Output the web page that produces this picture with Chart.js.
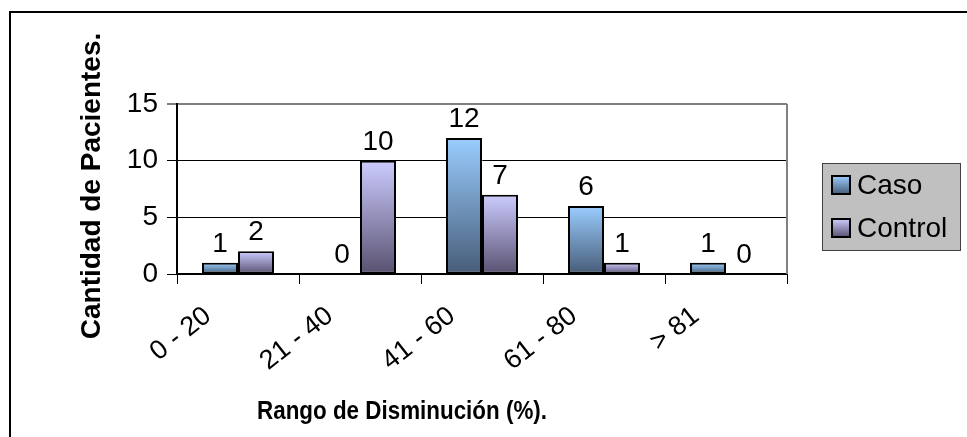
<!DOCTYPE html>
<html>
<head>
<meta charset="utf-8">
<script src="https://cdn.jsdelivr.net/npm/chart.js@4/dist/chart.umd.min.js"></script>
<style>
  html, body { margin: 0; padding: 0; background: #fff; }
  #wrap { width: 967px; height: 437px; position: relative; }
</style>
</head>
<body>
<div id="wrap"><canvas id="c" width="967" height="437"></canvas></div>
<script>
// Patients per reduction range
const categories = ['0 - 20', '21 - 40', '41 - 60', '61 - 80', '> 81'];
const casoValues = [1, 0, 12, 6, 1];
const controlValues = [2, 10, 7, 1, 0];
const yTicks = [0, 5, 10, 15];
const seriesNames = ['Caso', 'Control'];
const yTitle = 'Cantidad de Pacientes.';
const xTitle = 'Rango de Disminución (%).';

const FONT = "Arial, 'Liberation Sans', sans-serif";

// vertical gradient per bar, light at the top and dark at the base
function barGradient(topColor, bottomColor) {
  return (ctx) => {
    const chart = ctx.chart;
    if (!chart.chartArea || ctx.raw === undefined) return topColor;
    const ys = chart.scales.y;
    const yTop = ys.getPixelForValue(ctx.raw);
    const yBase = ys.getPixelForValue(0);
    if (Math.abs(yBase - yTop) < 1) return topColor;
    const g = chart.ctx.createLinearGradient(0, yTop, 0, yBase);
    g.addColorStop(0, topColor);
    g.addColorStop(1, bottomColor);
    return g;
  };
}

const swatch = {
  Caso: ['#9acdff', '#475c78'],
  Control: ['#ccccff', '#595170']
};

// text squeezed horizontally to a given width
function fillFitted(c, text, x, y, width) {
  const w = c.measureText(text).width;
  c.save();
  c.translate(x, y);
  c.scale(width / w, 1);
  c.fillText(text, 0, 0);
  c.restore();
}

// frame, plot border, value labels, axis titles and legend box
const decor = {
  id: 'decor',
  beforeDraw(chart) {
    const c = chart.ctx;
    c.save();
    c.fillStyle = '#fff';
    c.fillRect(0, 0, chart.width, chart.height);
    c.strokeStyle = '#000';
    c.lineWidth = 2;
    c.beginPath();
    c.moveTo(10, chart.height);
    c.lineTo(10, 12);
    c.lineTo(chart.width, 12);
    c.stroke();
    c.restore();
  },
  afterDatasetsDraw(chart) {
    const c = chart.ctx;
    const a = chart.chartArea;
    c.save();
    // right border of the plot area
    c.strokeStyle = '#808080';
    c.lineWidth = 2;
    c.beginPath();
    c.moveTo(a.right, a.top);
    c.lineTo(a.right, a.bottom);
    c.stroke();

    // value labels
    c.fillStyle = '#000';
    c.font = '28px ' + FONT;
    c.textAlign = 'center';
    c.textBaseline = 'alphabetic';
    chart.data.datasets.forEach((ds, di) => {
      const meta = chart.getDatasetMeta(di);
      meta.data.forEach((bar, i) => {
        c.fillText(String(ds.data[i]), bar.x, bar.y - 11);
      });
    });

    // axis titles
    c.font = 'bold 26px ' + FONT;
    c.textBaseline = 'middle';
    c.textAlign = 'center';
    fillFitted(c, xTitle, 402, 412, 290);
    c.save();
    c.font = 'bold 28px ' + FONT;
    c.translate(92, 186);
    c.rotate(-Math.PI / 2);
    c.fillText(yTitle, 0, 0);
    c.restore();

    // legend
    const lx = 822, ly = 163, lw = 138, lh = 87;
    c.fillStyle = '#c0c0c0';
    c.fillRect(lx, ly, lw, lh);
    c.strokeStyle = '#404040';
    c.lineWidth = 1;
    c.strokeRect(lx + 0.5, ly + 0.5, lw, lh);
    chart.data.datasets.forEach((ds, di) => {
      const cy = ly + 22 + di * 43;
      const sx = lx + 10, s = 18;
      const g = c.createLinearGradient(0, cy - s / 2, 0, cy + s / 2);
      g.addColorStop(0, swatch[ds.label][0]);
      g.addColorStop(1, swatch[ds.label][1]);
      c.fillStyle = g;
      c.fillRect(sx, cy - s / 2, s, s);
      c.strokeStyle = '#000';
      c.lineWidth = 2;
      c.strokeRect(sx, cy - s / 2, s, s);
      c.fillStyle = '#000';
      c.font = '28px ' + FONT;
      c.textAlign = 'left';
      c.textBaseline = 'middle';
      c.fillText(ds.label, sx + s + 7, cy + 1);
    });
    c.restore();
  }
};

new Chart(document.getElementById('c'), {
  type: 'bar',
  data: {
    labels: categories,
    datasets: [
      {
        label: seriesNames[0],
        data: casoValues,
        backgroundColor: barGradient(swatch.Caso[0], swatch.Caso[1]),
        borderColor: '#000',
        borderWidth: 2,
        borderSkipped: false,
        categoryPercentage: 0.59,
        barPercentage: 1
      },
      {
        label: seriesNames[1],
        data: controlValues,
        backgroundColor: barGradient(swatch.Control[0], swatch.Control[1]),
        borderColor: '#000',
        borderWidth: 2,
        borderSkipped: false,
        categoryPercentage: 0.59,
        barPercentage: 1
      }
    ]
  },
  options: {
    responsive: false,
    animation: false,
    devicePixelRatio: 1,
    layout: { padding: { top: 104, right: 180, left: 0, bottom: 0 } },
    plugins: {
      legend: { display: false },
      tooltip: { enabled: false }
    },
    scales: {
      x: {
        grid: {
          offset: true,
          drawOnChartArea: false,
          drawTicks: true,
          tickLength: 10,
          color: '#000',
          lineWidth: 1
        },
        border: { color: '#000', width: 2 },
        ticks: {
          color: '#000',
          font: { family: FONT, size: 27 },
          maxRotation: 38,
          minRotation: 38,
          labelOffset: -30,
          padding: 16
        },
        afterFit(scale) { scale.height = 437 - 274; }
      },
      y: {
        min: 0,
        max: 15,
        afterBuildTicks(scale) { scale.ticks = yTicks.map(v => ({ value: v })); },
        grid: {
          color: (ctx) => (ctx.tick && ctx.tick.value === 15 ? '#808080' : '#000'),
          lineWidth: (ctx) => (ctx.tick && ctx.tick.value === 15 ? 2 : 1),
          tickLength: 10,
          drawTicks: true
        },
        border: { color: '#000', width: 2 },
        ticks: {
          color: '#000',
          font: { family: FONT, size: 28 },
          padding: 9
        },
        afterFit(scale) { scale.width = 177; }
      }
    }
  },
  plugins: [decor]
});
</script>
</body>
</html>
